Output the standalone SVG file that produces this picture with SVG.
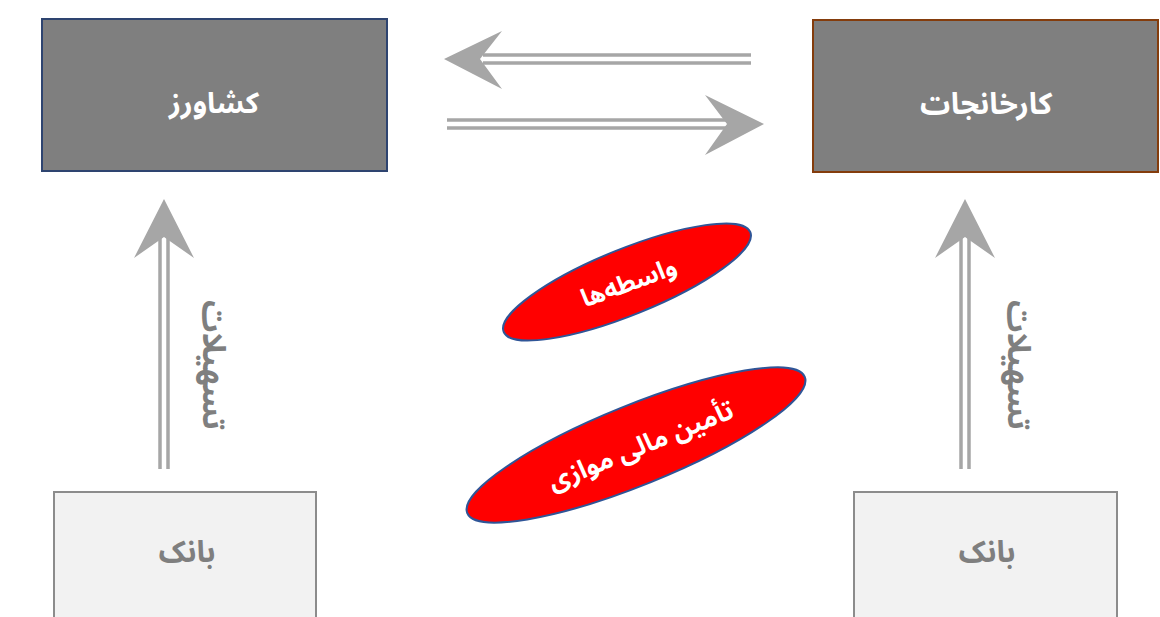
<svg xmlns="http://www.w3.org/2000/svg" width="1160" height="617" viewBox="0 0 1160 617">
<style>
.top{fill:#7f7f7f;stroke-width:2}
.bank{fill:#f2f2f2;stroke:#8c8c8c;stroke-width:2}
.ar{fill:#a6a6a6}
.ln{stroke:#a6a6a6;stroke-width:3.5;fill:none}
.ell{fill:#ff0000;stroke:#2f5597;stroke-width:2}
.t{font-family:"Noto Sans Arabic","DejaVu Sans",sans-serif;font-weight:bold;text-anchor:middle;dominant-baseline:central;direction:rtl}
.w{fill:#ffffff}
.g{fill:#7f7f7f}
</style>
<rect width="1160" height="617" fill="#ffffff"/>
<g id="connectors">
  <g id="arrow-left">
    <line class="ln" x1="483" y1="55" x2="751" y2="55"/>
    <line class="ln" x1="483" y1="63" x2="751" y2="63"/>
    <polygon class="ar" points="444,59 502,31 480,59 502,89"/>
  </g>
  <g id="arrow-right">
    <line class="ln" x1="447" y1="120" x2="729" y2="120"/>
    <line class="ln" x1="447" y1="128" x2="729" y2="128"/>
    <polygon class="ar" points="764,124 705,95 727,124 705,155"/>
  </g>
  <g id="arrow-up-left">
    <line class="ln" x1="160" y1="236" x2="160" y2="469"/>
    <line class="ln" x1="168" y1="236" x2="168" y2="469"/>
    <polygon class="ar" points="164,199 134,258 164,237 194,258"/>
  </g>
  <g id="arrow-up-right">
    <line class="ln" x1="961" y1="236" x2="961" y2="469"/>
    <line class="ln" x1="969" y1="236" x2="969" y2="469"/>
    <polygon class="ar" points="965,199 935,258 965,237 995,258"/>
  </g>
  <text class="t g" font-size="32" transform="translate(213,365) rotate(90)">تسهیلات</text>
  <text class="t g" font-size="32" transform="translate(1018,365) rotate(90)">تسهیلات</text>
</g>
<g id="farmer">
  <rect class="top" x="42" y="19" width="345" height="152" stroke="#2e4470"/>
  <text class="t w" x="214" y="103" font-size="29" font-weight="normal">کشاورز</text>
</g>
<g id="factories">
  <rect class="top" x="813" y="20" width="345" height="152" stroke="#843c0c"/>
  <text class="t w" x="986" y="104" font-size="30" font-weight="normal">کارخانجات</text>
</g>
<g id="bank-left">
  <rect class="bank" x="54" y="492" width="262" height="140"/>
  <text class="t g" x="187" y="552" font-size="30">بانک</text>
</g>
<g id="bank-right">
  <rect class="bank" x="854" y="492" width="263" height="140"/>
  <text class="t g" x="987" y="552" font-size="30">بانک</text>
</g>
<g id="intermediaries">
  <ellipse class="ell" cx="627" cy="282" rx="133" ry="33" transform="rotate(-22 627 282)"/>
  <text class="t w" font-size="25" transform="translate(629,283) rotate(-20)">واسطه‌ها</text>
</g>
<g id="parallel-finance">
  <ellipse class="ell" cx="636" cy="445" rx="182" ry="40" transform="rotate(-22 636 445)"/>
  <text class="t w" font-size="26" transform="translate(641,446) rotate(-22)">تأمین مالی موازی</text>
</g>
</svg>
